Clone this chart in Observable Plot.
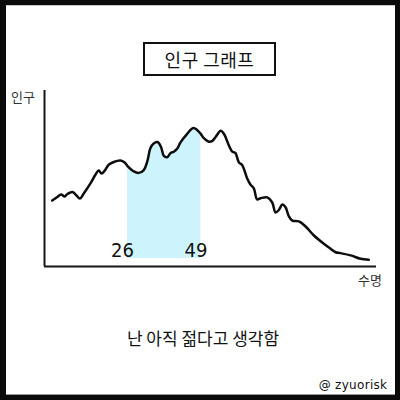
<!DOCTYPE html>
<html>
<head>
<meta charset="utf-8">
<script src="https://cdn.jsdelivr.net/npm/d3@7"></script>
<script src="https://cdn.jsdelivr.net/npm/@observablehq/plot@0.6"></script>
<style>
  html, body { margin: 0; padding: 0; background: #fff; }
  #page { position: relative; width: 400px; height: 400px; overflow: hidden; }
  #page svg { position: absolute; left: 0; top: 0; }
  .frame {
    position: absolute; left: 0; top: 0; width: 400px; height: 400px;
    box-sizing: border-box; border-style: solid; border-color: #0a0a0a;
    border-width: 5px 5px 5px 6px;
    box-shadow: inset 0 1px 0 #c8c8c8, inset 0 -1px 0 #9a9a9a;
    pointer-events: none;
  }
  .txt {
    position: absolute; transform: translate(-50%, -50%); white-space: nowrap;
    font-family: "Noto Sans CJK KR", "Noto Sans", sans-serif; color: #111; line-height: 1;
  }
  .title-box {
    position: absolute; left: 143px; top: 42px; width: 133px; height: 34px;
    box-sizing: border-box; border: 2px solid #111;
    display: flex; align-items: center; justify-content: center;
    font-family: "Noto Sans CJK KR", sans-serif; font-size: 18px; letter-spacing: 0.5px; color: #111;
  }
  .band-label { font-stretch: condensed; }
</style>
</head>
<body>
<div id="page">
  <div class="title-box">인구 그래프</div>
  <div class="txt" style="left:23px; top:96px; font-size:13px; color:#333;">인구</div>
  <div class="txt" style="left:370px; top:279px; font-size:13px; color:#333;">수명</div>
  <div class="txt" style="left:203px; top:337px; font-size:17px;">난 아직 젊다고 생각함</div>
  <div class="txt" style="left:353px; top:385px; font-size:12px; font-family:'DejaVu Sans', sans-serif; letter-spacing:0.3px;">@ zyuorisk</div>
</div>
<script>
// Population by age (arbitrary units)
const ages = [
  2.4, 4.0, 5.2, 6.3, 7.2, 8.8, 9.9, 11.1, 12.3, 14.4, 16.0, 17.0, 17.9, 18.8,
  20.1, 21.7, 23.8, 25.1, 26.0, 28.0, 29.5, 31.1, 32.2, 33.2, 34.2, 35.4, 36.5,
  37.4, 38.4, 39.5, 40.5, 41.6, 42.6, 44.7, 46.6, 47.8, 49.0, 49.9, 51.5, 52.6,
  53.6, 55.2, 56.2, 57.7, 58.8, 59.8, 60.9, 61.9, 63.5, 64.5, 65.6, 66.6, 67.7,
  69.8, 71.3, 72.4, 73.4, 74.5, 75.5, 76.5, 77.6, 79.7, 81.8, 84.4, 87.5, 89.6,
  91.2, 92.7, 95.9, 99.0, 101.6
];
const population = [
  37.5, 39.5, 40.9, 39.8, 41.2, 42.3, 40.6, 38.6, 41.5, 47.2, 52.3, 54.5, 52.8, 54.3,
  57.8, 59.4, 60.2, 59.1, 57.1, 54.0, 53.2, 54.8, 59.7, 67.3, 69.9, 70.7, 67.9,
  62.8, 62.1, 64.5, 65.2, 67.0, 70.5, 75.4, 78.7, 77.6, 75.2, 72.9, 70.9, 71.4,
  73.6, 77.1, 75.4, 69.0, 65.3, 64.5, 59.1, 57.7, 50.0, 46.6, 44.3, 38.1, 38.8,
  39.3, 36.5, 30.7, 32.1, 35.2, 33.7, 28.7, 26.1, 25.6, 22.7, 17.6, 12.9, 10.1,
  8.1, 7.6, 6.3, 4.4, 3.8
];

// The "still young" age band and its labels
const youthBand = [26, 49];
const bandFloor = 4.5;
const bandLabelLevel = 9;

const ageDomain = [0, 104];
const popDomain = [0, 100];

const points = ages.map((age, i) => ({age, pop: population[i]}));

const chart = Plot.plot({
  width: 400,
  height: 400,
  marginLeft: 44,
  marginRight: 24,
  marginTop: 90,
  marginBottom: 134,
  style: {background: "transparent", overflow: "visible"},
  x: {domain: ageDomain, axis: null},
  y: {domain: popDomain, axis: null},
  marks: [
    Plot.areaY(points, {
      filter: d => d.age >= youthBand[0] && d.age <= youthBand[1],
      x: "age", y1: bandFloor, y2: "pop",
      fill: "#cdf4fc", curve: "catmull-rom"
    }),
    Plot.ruleX([ageDomain[0]], {y1: popDomain[0], y2: popDomain[1], stroke: "#151515", strokeWidth: 2}),
    Plot.ruleY([popDomain[0]], {x1: ageDomain[0], x2: ageDomain[1], stroke: "#151515", strokeWidth: 2}),
    Plot.line(points, {
      x: "age", y: "pop", stroke: "#0d0d0d", strokeWidth: 2.5,
      curve: "catmull-rom", strokeLinejoin: "round", strokeLinecap: "round"
    }),
    Plot.text(youthBand, {
      x: d => d, y: bandLabelLevel, text: d => String(d), dx: -5,
      fontSize: 20, fill: "#111", className: "band-label",
      fontFamily: "'DejaVu Sans', sans-serif"
    })
  ]
});

document.getElementById("page").prepend(chart);
const frame = document.createElement("div");
frame.className = "frame";
document.getElementById("page").append(frame);
</script>
</body>
</html>
